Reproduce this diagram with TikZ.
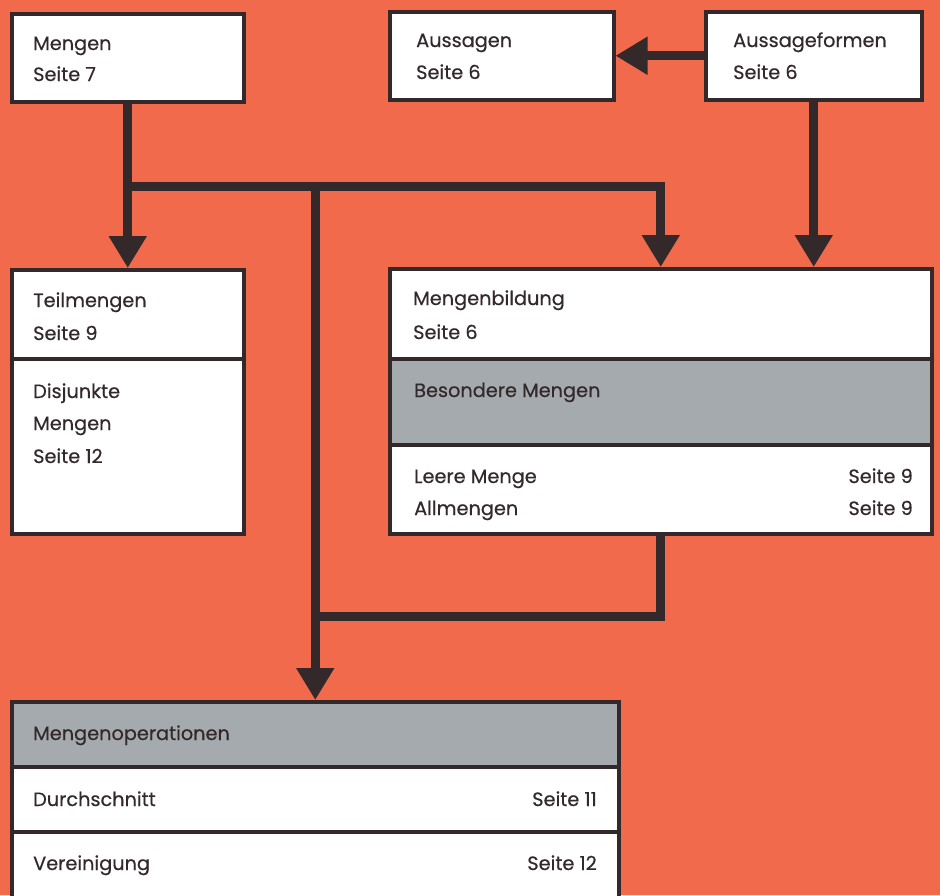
\documentclass[tikz,border=0pt]{standalone}
\usepackage{fontspec}
\setmainfont{Poppins}[FakeBold=0.5]
\usetikzlibrary{arrows.meta}
\definecolor{bg}{HTML}{F06A4B}
\definecolor{ink}{HTML}{33292B}
\definecolor{panel}{HTML}{A5AAAE}
\begin{document}
\begin{tikzpicture}[x=1pt,y=-1pt,
  box/.style={draw=ink,line width=3.5pt,fill=white,anchor=north west,inner sep=0pt},
  greybox/.style={box,fill=panel},
  conn/.style={draw=ink,line width=9pt,line join=miter},
  arr/.style={conn,-{Triangle[width=36pt,length=32pt]}},
  lbl/.style={anchor=base west,inner sep=0pt,text=ink,font=\fontsize{19.3}{22}\selectfont},
  rlbl/.style={lbl,anchor=base east}]
\useasboundingbox (0,0) rectangle (940,895);
\clip (0,0) rectangle (940,895);
\fill[bg] (0,0) rectangle (940,895);
% boxes
\node[box,minimum width=232pt,minimum height=88pt] (mengen) at (10,12) {};
\node[box,minimum width=224pt,minimum height=88pt] (aussagen) at (388,10) {};
\node[box,minimum width=216pt,minimum height=88pt] (aform) at (704,10) {};
\node[box,minimum width=232pt,minimum height=89pt] (teil) at (10,268) {};
\node[box,minimum width=232pt,minimum height=175pt] (disj) at (10,357) {};
\node[box,minimum width=542pt,minimum height=90pt] (mb) at (388,267) {};
\node[greybox,minimum width=542pt,minimum height=86pt] (bes) at (388,357) {};
\node[box,minimum width=542pt,minimum height=89pt] (leer) at (388,443) {};
\node[greybox,minimum width=607pt,minimum height=65pt] (mop) at (10,700) {};
\node[box,minimum width=607pt,minimum height=65pt] (durch) at (10,765) {};
\node[box,minimum width=607pt,minimum height=75pt] (ver) at (10,830) {};
% connectors
\path (mengen.south) ++(0,83) coordinate (j1);
\path (leer.south) ++(0,81) coordinate (j3);
\draw[arr] (mengen.south) -- (teil.north);
\draw[arr] (j1) -| (mb.north);
\draw[arr] (mop.north |- j1) -- (mop.north);
\draw[conn] (leer.south) |- (j3 -| mop.north);
\draw[arr] (aform.west) -- (aussagen.east);
\draw[arr] (aform.south) -- (aform.south |- mb.north);
% labels
\node[lbl] (t1) at (33,50) {Mengen};
\node[lbl] (t2) at (33,81) {Seite 7};
\node[lbl] (t3) at (416,47) {Aussagen};
\node[lbl] (t4) at (416,79) {Seite 6};
\node[lbl] (t5) at (733,47) {Aussageformen};
\node[lbl] (t6) at (733,79) {Seite 6};
\node[lbl] (t7) at (33,307) {Teilmengen};
\node[lbl] (t8) at (33,340) {Seite 9};
\node[lbl] (t9) at (33,398) {Disjunkte};
\node[lbl] (t10) at (33,430) {Mengen};
\node[lbl] (t11) at (33,463) {Seite 12};
\node[lbl] (t12) at (413,305) {Mengenbildung};
\node[lbl] (t13) at (413,339) {Seite 6};
\node[lbl] (t14) at (414,397) {Besondere Mengen};
\node[lbl] (t15) at (414,483) {Leere Menge};
\node[lbl] (t16) at (414,515) {Allmengen};
\node[rlbl] (t17) at (913,483) {Seite 9};
\node[rlbl] (t18) at (913,515) {Seite 9};
\node[lbl] (t19) at (33,740) {Mengenoperationen};
\node[lbl] (t20) at (33,806) {Durchschnitt};
\node[rlbl] (t21) at (597,806) {Seite 11};
\node[lbl] (t22) at (33,870) {Vereinigung};
\node[rlbl] (t23) at (597,870) {Seite 12};
\end{tikzpicture}
\end{document}
